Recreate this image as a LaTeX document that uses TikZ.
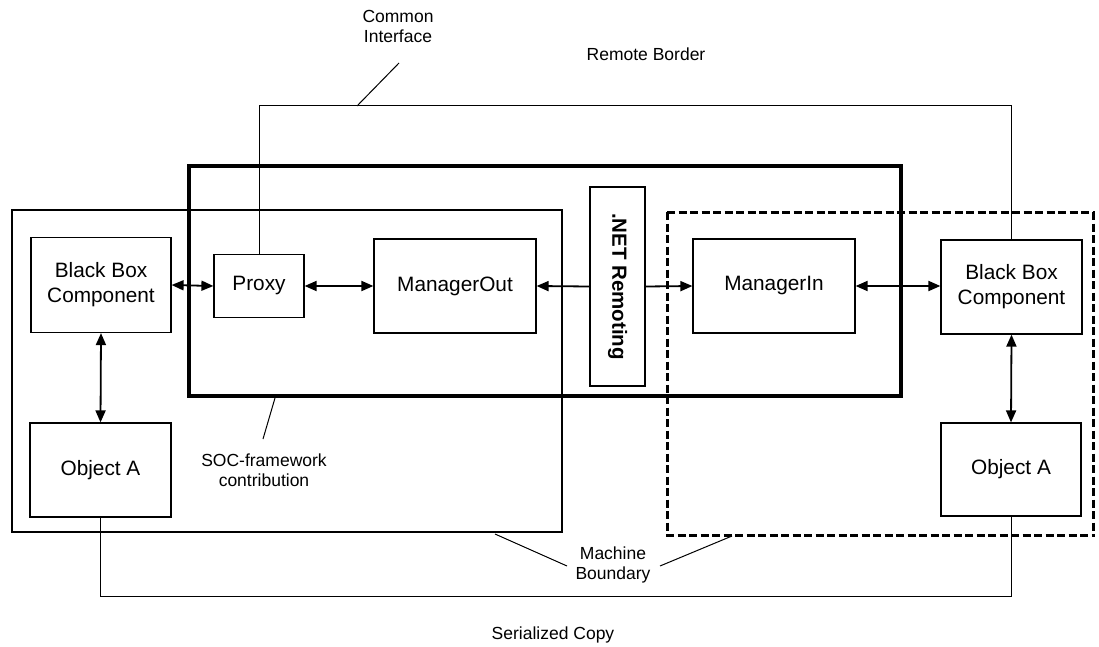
\documentclass[tikz,border=0pt]{standalone}
\usepackage{fontspec}
\setmainfont{Liberation Sans}
\usetikzlibrary{arrows.meta}
\begin{document}
\begin{tikzpicture}[x=1pt,y=-1pt,
  box/.style={draw,line width=1.2pt,inner sep=0pt,align=center,
    font=\fontsize{20.8}{25}\selectfont},
  lbl/.style={align=center,inner sep=0pt,font=\fontsize{17.5}{20}\selectfont},
  thin/.style={line width=1pt},
  tip/.tip={Triangle[length=12pt,width=10pt]},
  dbl/.style={tip-tip,line width=1.8pt},
  one/.style={-tip,line width=1.8pt},
  machine/.style={line width=2pt},
  soc/.style={line width=4.5pt},
  remote/.style={line width=3pt,dash pattern=on 8pt off 3.5pt}]
\useasboundingbox (0,0) rectangle (1099,647);

% machine boundaries and the framework contribution
\draw[machine] (12,210) rectangle (562,532);
\draw[remote] (667,212) -- (1095,212) (667,212) -- (667,535) -- (1095,535);
\draw[remote] (1093,212) -- (1093,535);
\draw[soc] (189,166) rectangle (901,396);

% components
\node[box,minimum width=140,minimum height=95] (bbL) at (101,285) {Black Box\\Component};
\node[box,minimum width=90,minimum height=63] (proxy) at (259,286) {Proxy};
\node[box,minimum width=162,minimum height=94] (mout) at (455,286) {ManagerOut};
\node[box,fill=white,minimum width=55,minimum height=199] (net) at (617.5,286.5) {};
\node[rotate=-90,inner sep=0pt,font=\fontsize{20.5}{24}\selectfont\bfseries] (nettext) at (net.center) {.NET Remoting};
\node[box,minimum width=162,minimum height=94] (min) at (774,286) {ManagerIn};
\node[box,minimum width=141,minimum height=94] (bbR) at (1011.5,287) {Black Box\\Component};
\node[box,minimum width=141,minimum height=94] (objL) at (100.5,470) {Object A};
\node[box,minimum width=140,minimum height=93] (objR) at (1011,469.5) {Object A};

% calls between components
\draw[dbl] (bbL.east) -- (proxy.west);
\draw[dbl] (proxy.east) -- (mout.west);
\draw[one] (net.west) -- (mout.east);
\draw[one] (net.east) -- (min.west);
\draw[dbl] (min.east) -- (bbR.west |- min.east);
\draw[dbl] (bbL.south) -- (objL.north);
\draw[dbl] (bbR.south) -- (objR.north);

% remote border and serialized copy
\coordinate (rb) at (0,106);
\coordinate (sc) at (0,596);
\draw[thin] (proxy.north) -- (proxy.north |- rb) -| (bbR.north);
\draw[thin] (objL.south) -- (objL.south |- sc) -| (objR.south);

% labels
\node[lbl] (ci) at (398,26) {Common\\Interface};
\coordinate (ciA) at (399,63);
\coordinate (ciB) at (357,106);
\draw[thin] (ciA) -- (ciB);
\node[lbl] (rbt) at (646,54) {Remote Border};
\node[lbl] (socl) at (264,470) {SOC-framework\\contribution};
\coordinate (socA) at (275,398);
\coordinate (socB) at (263,439);
\draw[thin] (socA) -- (socB);
\node[lbl] (mb) at (613,565) {Machine\\Boundary};
\coordinate (mbL) at (495,534);
\coordinate (mbLe) at (567,566);
\coordinate (mbR) at (732,536);
\coordinate (mbRe) at (660,566);
\draw[thin] (mbL) -- (mbLe);
\draw[thin] (mbR) -- (mbRe);
\node[lbl] (sct) at (553,635) {Serialized Copy};
\end{tikzpicture}
\end{document}
